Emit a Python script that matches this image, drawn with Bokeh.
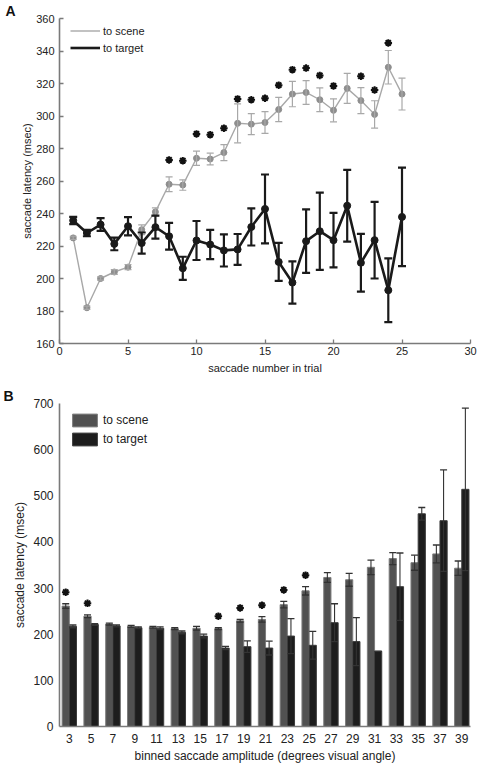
from bokeh.plotting import figure
from bokeh.models import (ColumnDataSource, Whisker, TeeHead, Range1d, FixedTicker,
                          Legend, LegendItem, Title)
from bokeh.layouts import column
from bokeh.embed import file_html
from bokeh.resources import INLINE

FONT = "Liberation Sans"

# ---------------- Panel A data ----------------
trial = list(range(1, 26))
scene_lat = [225, 182, 200, 204, 207, 230, 241, 258, 257.5, 274, 273.5, 277.5, 295.5,
             295, 296, 304, 313.5, 314.5, 310, 303.5, 317, 309.5, 301, 330, 313.5]
scene_err = [1, 1, 1, 1.5, 1.5, 3, 2.5, 4.5, 3.2, 4.4, 3.6, 4.9, 12,
             6.5, 6.7, 7.5, 7.8, 7.3, 7.3, 7.1, 9.2, 8, 8.4, 10.3, 9.8]
target_lat = [235.7, 228, 233.2, 221.3, 232.2, 221.8, 231.6, 226, 206.3, 223.4, 220.9,
              217.3, 217.9, 231.7, 242.8, 210.2, 197.5, 223, 229.1, 223.6, 244.8,
              209.7, 223.6, 192.8, 237.9]
target_err = [2.2, 2, 3.9, 3.9, 5.6, 6.5, 7.1, 8.2, 7.1, 12, 9, 9.9, 9.5, 11.4, 21.2,
              11.7, 13, 19.5, 23.8, 16.8, 22.1, 17.8, 23.6, 19.6, 30.3]
sig_trials = [8, 9, 10, 11, 12, 13, 14, 15, 16, 17, 18, 19, 20, 22, 23, 24]
a_xticks = [0, 5, 10, 15, 20, 25, 30]
a_yticks = [160, 180, 200, 220, 240, 260, 280, 300, 320, 340, 360]

# ---------------- Panel B data ----------------
amp_bins = [3, 5, 7, 9, 11, 13, 15, 17, 19, 21, 23, 25, 27, 29, 31, 33, 35, 37, 39]
scene_b = [261, 239, 222, 217, 215, 212, 213, 212, 229, 232, 264, 294, 323, 318,
           345, 364, 355, 374, 343]
scene_b_err = [5, 3, 2, 2, 2, 2, 4, 2, 3, 6, 7, 9, 10.5, 14, 15.7, 13, 16.4, 19.3, 15.7]
target_b = [217, 221, 218, 214, 213, 204, 196, 170, 173, 170, 196, 176, 225, 184,
            163, 303, 461, 446, 514]
target_b_err = [3, 2, 2, 2, 3, 3, 4, 3.5, 12.5, 15, 38, 30, 41, 52, 0, 73, 13.6, 110, 176]
sig_bins = [3, 5, 17, 19, 21, 23, 25]
b_yticks = [0, 100, 200, 300, 400, 500, 600, 700]

TXT = "#222222"


def style_axes(p, size):
    for ax in (p.xaxis[0], p.yaxis[0]):
        ax.axis_line_color = "#7a7a7a"
        ax.axis_line_width = 1.6
        ax.major_label_text_font = FONT
        ax.major_label_text_font_size = size
        ax.major_label_text_color = TXT
        ax.axis_label_text_font = FONT
        ax.axis_label_text_font_style = "normal"
        ax.axis_label_text_font_size = size
        ax.axis_label_text_color = TXT
        ax.minor_tick_line_color = None
    p.grid.visible = False
    p.outline_line_color = None


def panel_letter(p, letter, offset):
    p.add_layout(Title(text=letter, align="left", offset=offset, standoff=0,
                       text_font=FONT, text_font_style="bold", text_font_size="14px",
                       text_color="#111111"), "above")


# ================= Panel A =================
A_W, A_H = 480, 380
A_L, A_R, A_T, A_B = 59, 8, 16, 37
a_fh = A_H - A_T - A_B

pa = figure(width=A_W, height=A_H, output_backend="svg", toolbar_location=None,
            title=None, x_range=Range1d(0, 30), y_range=Range1d(160, 360),
            min_border_left=A_L, min_border_right=A_R, min_border_top=A_T,
            min_border_bottom=A_B)
style_axes(pa, "11px")
pa.xaxis.ticker = FixedTicker(ticks=a_xticks)
pa.yaxis.ticker = FixedTicker(ticks=a_yticks)
for ax in (pa.xaxis[0], pa.yaxis[0]):
    ax.major_tick_in = 4
    ax.major_tick_out = 0
    ax.major_tick_line_color = "#7a7a7a"
    ax.major_tick_line_width = 1.3
pa.xaxis.axis_label = "saccade number in trial"
pa.yaxis.axis_label = "saccade latency (msec)"
pa.xaxis.major_label_standoff = 3
pa.yaxis.major_label_standoff = 5
pa.xaxis.axis_label_standoff = 4
pa.yaxis.axis_label_standoff = 0

src_a = ColumnDataSource(dict(
    x=trial, scene=scene_lat,
    s_up=[v + e for v, e in zip(scene_lat, scene_err)],
    s_lo=[v - e for v, e in zip(scene_lat, scene_err)],
    target=target_lat,
    t_up=[v + e for v, e in zip(target_lat, target_err)],
    t_lo=[v - e for v, e in zip(target_lat, target_err)],
))

scene_line = pa.line("x", "scene", source=src_a, line_color="#a8a8a8", line_width=1.4)
pa.add_layout(Whisker(base="x", upper="s_up", lower="s_lo", source=src_a,
                      line_color="#a8a8a8", line_width=1.2, level="glyph",
                      upper_head=TeeHead(size=7, line_color="#a8a8a8", line_width=1.2),
                      lower_head=TeeHead(size=7, line_color="#a8a8a8", line_width=1.2)))
pa.scatter("x", "scene", source=src_a, size=6, fill_color="#8e8e8e", line_color="#8e8e8e")

pa.add_layout(Whisker(base="x", upper="t_up", lower="t_lo", source=src_a,
                      line_color="#1a1a1a", line_width=2.2, level="glyph",
                      upper_head=TeeHead(size=8, line_color="#1a1a1a", line_width=2.2),
                      lower_head=TeeHead(size=8, line_color="#1a1a1a", line_width=2.2)))
target_line = pa.line("x", "target", source=src_a, line_color="#1a1a1a", line_width=2.6)
pa.scatter("x", "target", source=src_a, size=7, fill_color="#1a1a1a", line_color="#1a1a1a")

star_a_y = [scene_lat[t - 1] + 15 for t in sig_trials]
pa.scatter(sig_trials, star_a_y, marker="asterisk", size=7.5, line_width=2,
           line_color="#111111")

leg_a = Legend(items=[LegendItem(label="to scene", renderers=[scene_line]),
                      LegendItem(label="to target", renderers=[target_line])],
               location=(11, a_fh - 40), padding=0, margin=0, spacing=0,
               glyph_width=30, glyph_height=17, label_height=17, label_standoff=3,
               label_text_font=FONT, label_text_font_size="11px",
               label_text_color=TXT,
               border_line_color=None, background_fill_alpha=0)
pa.add_layout(leg_a)
panel_letter(pa, "A", -54)

# ================= Panel B =================
B_W, B_H = 480, 386
B_L, B_R, B_T, B_B = 59, 10, 23, 40
b_fh = B_H - B_T - B_B

pb = figure(width=B_W, height=B_H, output_backend="svg", toolbar_location=None,
            title=None, x_range=Range1d(2.1, 39.8), y_range=Range1d(0, 700),
            min_border_left=B_L, min_border_right=B_R, min_border_top=B_T,
            min_border_bottom=B_B)
style_axes(pb, "12px")
pb.xaxis.ticker = FixedTicker(ticks=amp_bins)
pb.yaxis.ticker = FixedTicker(ticks=b_yticks)
for ax in (pb.xaxis[0], pb.yaxis[0]):
    ax.major_tick_in = 0
    ax.major_tick_out = 0
pb.xaxis.axis_label = "binned saccade amplitude (degrees visual angle)"
pb.yaxis.axis_label = "saccade latency (msec)"
pb.xaxis.major_label_standoff = 7
pb.yaxis.major_label_standoff = 6
pb.xaxis.axis_label_standoff = 3
pb.yaxis.axis_label_standoff = 3

half = 0.33
src_b = ColumnDataSource(dict(
    xs=[a - half for a in amp_bins], xt=[a + half for a in amp_bins],
    scene=scene_b, target=target_b,
    s_up=[v + e for v, e in zip(scene_b, scene_b_err)],
    s_lo=[v - e for v, e in zip(scene_b, scene_b_err)],
    t_up=[v + e for v, e in zip(target_b, target_b_err)],
    t_lo=[v - e for v, e in zip(target_b, target_b_err)],
))

bar_s = pb.vbar(x="xs", top="scene", width=0.66, source=src_b,
                fill_color="#515151", line_color="#7c7c7c", line_width=1)
bar_t = pb.vbar(x="xt", top="target", width=0.66, source=src_b,
                fill_color="#1d1d1d", line_color="#3c3c3c", line_width=1)
for base, up, lo in (("xs", "s_up", "s_lo"), ("xt", "t_up", "t_lo")):
    pb.add_layout(Whisker(base=base, upper=up, lower=lo, source=src_b,
                          line_color="#333333", line_width=1.1, level="overlay",
                          upper_head=TeeHead(size=7, line_color="#333333", line_width=1.3),
                          lower_head=TeeHead(size=7, line_color="#333333", line_width=1.3)))

star_b_y = [scene_b[amp_bins.index(b)] + scene_b_err[amp_bins.index(b)] + 25 for b in sig_bins]
pb.scatter([b - half for b in sig_bins], star_b_y, marker="asterisk", size=7.5,
           line_width=2, line_color="#111111")

leg_b = Legend(items=[LegendItem(label="to scene", renderers=[bar_s]),
                      LegendItem(label="to target", renderers=[bar_t])],
               location=(10, b_fh - 44), padding=0, margin=0, spacing=3,
               glyph_width=31, glyph_height=16, label_height=16, label_standoff=3,
               label_text_font=FONT, label_text_font_size="12px",
               label_text_color=TXT,
               border_line_color=None, background_fill_alpha=0)
pb.add_layout(leg_b)
panel_letter(pb, "B", -56)

layout = column(pa, pb)
open("out.html", "w").write(file_html(layout, INLINE))
